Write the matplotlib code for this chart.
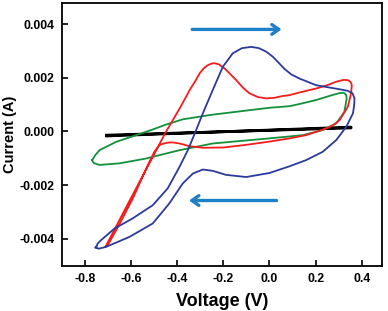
import matplotlib
matplotlib.use("Agg")
import matplotlib.pyplot as plt

# ---- data (voltage in V, current in mA; converted to A when plotted) ----
black_v = [-0.706, 0.354, 0.354, -0.706]
black_i = [-0.17, 0.16, 0.13, -0.14]

green_v = [-0.769, -0.755, -0.737, -0.665, -0.578, -0.513, -0.45, -0.376, -0.25, -0.087,
           0.0, 0.087, 0.130, 0.203, 0.275, 0.306, 0.322, 0.332, 0.335, 0.325,
           0.290, 0.231, 0.145, 0.0, -0.246, -0.390, -0.535, -0.650, -0.737, -0.762,
           -0.769]
green_i = [-1.07, -0.88, -0.70, -0.39, -0.14, 0.05, 0.25, 0.45, 0.62, 0.79,
           0.88, 0.94, 1.02, 1.17, 1.36, 1.43, 1.44, 1.37, 1.23, 0.73,
           0.30, 0.05, -0.14, -0.26, -0.45, -0.70, -1.01, -1.19, -1.25, -1.18,
           -1.07]

red_v = [-0.711, -0.62, -0.54, -0.483, -0.448, -0.419, -0.38, -0.346, -0.32, -0.303,
         -0.285, -0.267, -0.25, -0.238, -0.22, -0.195, -0.173, -0.144, -0.115, -0.087,
         -0.05, -0.014, 0.02, 0.058, 0.087, 0.130, 0.203, 0.25, 0.289, 0.322,
         0.340, 0.352, 0.357, 0.354, 0.34, 0.304, 0.275, 0.246, 0.159, 0.087,
         0.0, -0.1, -0.2, -0.289, -0.347, -0.390, -0.420, -0.441, -0.462, -0.477,
         -0.499, -0.53, -0.59, -0.65, -0.70, -0.711]
red_i = [-4.30, -2.80, -1.50, -0.57, 0.0, 0.42, 1.0, 1.54, 1.90, 2.16,
         2.35, 2.47, 2.53, 2.54, 2.50, 2.35, 2.16, 1.91, 1.63, 1.42,
         1.28, 1.23, 1.25, 1.32, 1.35, 1.45, 1.60, 1.72, 1.85, 1.92,
         1.91, 1.84, 1.73, 1.42, 0.92, 0.42, 0.22, 0.11, -0.14, -0.26,
         -0.38, -0.50, -0.60, -0.61, -0.55, -0.45, -0.41, -0.42, -0.46, -0.51,
         -0.76, -1.30, -2.45, -3.45, -4.22, -4.30]

blue_v = [-0.751, -0.745, -0.730, -0.672, -0.593, -0.506, -0.441, -0.390, -0.354, -0.325,
          -0.289, -0.246, -0.202, -0.159, -0.12, -0.079, -0.045, -0.014, 0.015, 0.043,
          0.065, 0.095, 0.130, 0.203, 0.304, 0.340, 0.360, 0.369, 0.367, 0.362,
          0.333, 0.290, 0.231, 0.159, 0.087, 0.0, -0.101, -0.188, -0.246, -0.289,
          -0.332, -0.376, -0.434, -0.506, -0.607, -0.708, -0.74, -0.756, -0.751]
blue_i = [-4.30, -4.18, -4.05, -3.62, -3.24, -2.75, -2.12, -1.32, -0.70, -0.10,
          0.67, 1.54, 2.41, 2.91, 3.10, 3.15, 3.10, 2.97, 2.78, 2.53,
          2.33, 2.12, 1.97, 1.72, 1.57, 1.51, 1.42, 1.23, 0.95, 0.67,
          0.17, -0.32, -0.76, -1.07, -1.30, -1.55, -1.70, -1.62, -1.47, -1.42,
          -1.57, -1.94, -2.68, -3.43, -3.93, -4.30, -4.37, -4.33, -4.30]

# scan direction arrows: (start V, end V, current mA)
arrow_fwd = (-0.347, 0.065, 3.8)
arrow_rev = (0.043, -0.361, -2.575)

plt.rcParams["font.family"] = ["Liberation Sans", "DejaVu Sans"]
plt.rcParams["font.weight"] = "bold"

fig = plt.figure(figsize=(3.88, 3.11), dpi=100)
ax = fig.add_axes([0.159, 0.146, 0.8255, 0.844])

def amps(vals):
    return [v / 1000.0 for v in vals]

ax.plot(black_v, amps(black_i), color="black", lw=2.0, solid_joinstyle="round")
ax.plot(green_v, amps(green_i), color="#12913a", lw=1.3, solid_joinstyle="round")
ax.plot(red_v, amps(red_i), color="#f41c1c", lw=1.3, solid_joinstyle="round")
ax.plot(blue_v, amps(blue_i), color="#2b3a9c", lw=1.3, solid_joinstyle="round")

for x0, x1, yv in (arrow_fwd, arrow_rev):
    ax.annotate("", xy=(x1, yv / 1000.0), xytext=(x0, yv / 1000.0),
                arrowprops=dict(arrowstyle="->,head_length=0.5,head_width=0.35",
                                color="#1d80c8", lw=2.4))

ax.set_xlim(-0.901, 0.488)
ax.set_ylim(-0.005, 0.00478)
ax.set_xticks([-0.8, -0.6, -0.4, -0.2, 0.0, 0.2, 0.4])
ax.set_xticklabels(["-0.8", "-0.6", "-0.4", "-0.2", "0.0", "0.2", "0.4"])
ax.set_yticks([-0.004, -0.002, 0.0, 0.002, 0.004])
ax.set_yticklabels(["-0.004", "-0.002", "0.000", "0.002", "0.004"])
ax.tick_params(direction="in", length=4, width=1.2, labelsize=8.8, pad=5)
for sp in ax.spines.values():
    sp.set_linewidth(1.3)

ax.set_xlabel("Voltage (V)", fontsize=13, fontweight="bold", labelpad=6)
ax.set_ylabel("Current (A)", fontsize=10.5, fontweight="bold")
ax.yaxis.set_label_coords(-0.141, 0.5)

fig.savefig("out.png", dpi=100)
